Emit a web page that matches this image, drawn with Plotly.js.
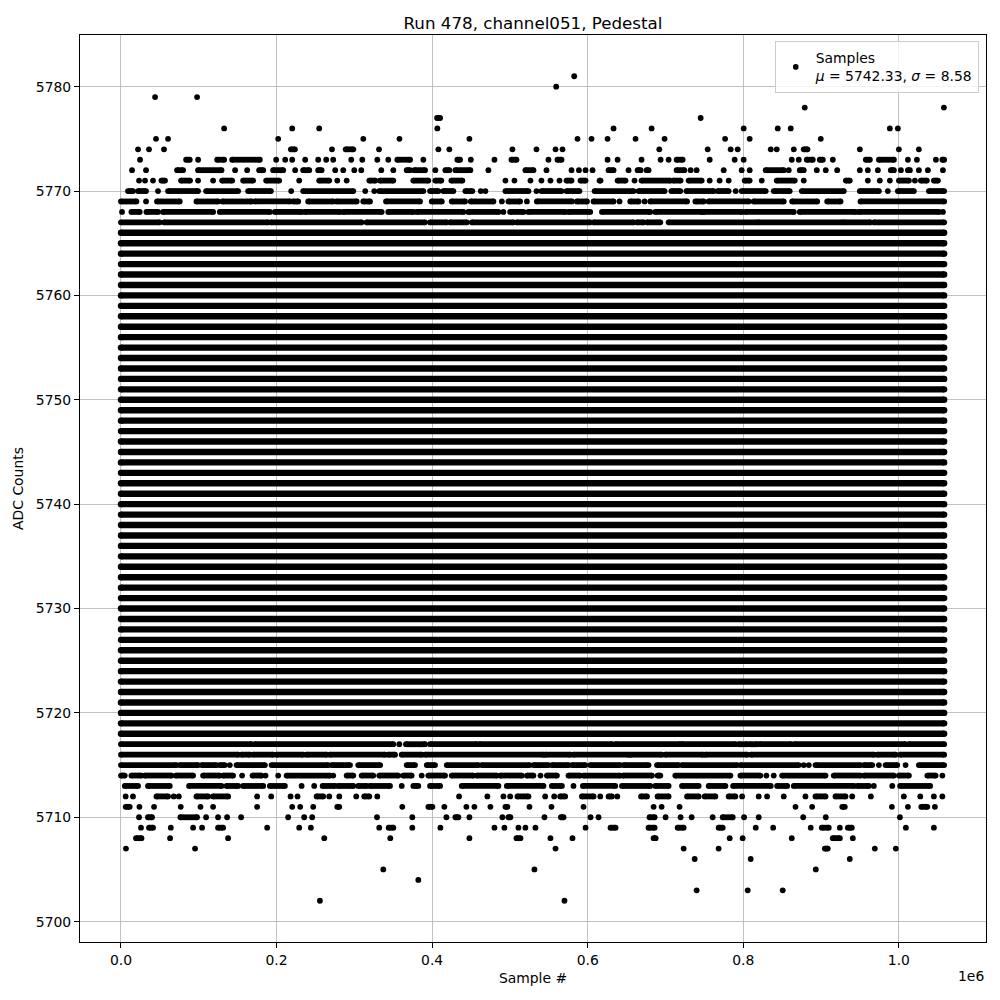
<!DOCTYPE html>
<html><head><meta charset="utf-8">
<script src="https://cdn.plot.ly/plotly-3.0.1.min.js"></script>
<style>html,body{margin:0;padding:0;background:#fff}#chart{width:1000px;height:1000px}</style>
</head><body><div id="chart"></div>
<script>
// ---------- data ----------
const firstSample = 0;
const lastSample = 1058200;

// ADC levels whose samples form an unbroken band over the whole run
const denseLevels = [5718,5719,5720,5721,5722,5723,5724,5725,5726,5727,5728,5729,5730,5731,5732,5733,5734,5735,5736,5737,5738,5739,5740,5741,5742,5743,5744,5745,5746,5747,5748,5749,5750,5751,5752,5753,5754,5755,5756,5757,5758,5759,5760,5761,5762,5763,5764,5765,5766];

// sparse ADC levels; for each, sample numbers of single samples or [first,last] of runs
const sparseLevels = [5781,5780,5779,5778,5777,5776,5775,5774,5773,5772,5771,5770,5769,5768,5767,
                      5717,5716,5715,5714,5713,5712,5711,5710,5709,5708,5707,5706,5705,5704,5703,5702];
const sparseRuns = [
  [582600],
  [559500],
  [43800, 97800],
  [879000, 1057900],
  [[406300, 410200], 745200],
  [132600, 220100, 254800, 406700, 633200, 682100, 800500, 844300, 861000, 988400, 998700],
  [45000, 60500, 202100, 311500, 358000, 447900, 586900, 604900, 625500, 661500, 698800, 776600, 808200, 899600],
  [21900, 36000, 55300, [218400, 223600], 271200, [288800, 298600], 331700, 408000, 422100, 503200, 534100, 558600, 567600, 692000, 754200, 783800, 792800, 835300, 843000, 864900, [877700, 882500], 949800, 1000000, 1025700],
  [24500, [83700, 88400], 99100, [123600, 132600], [142900, 178500], 199500, 211100, 220100, 236800, 253500, 263800, 272800, 296000, 310200, 329500, 343600, [355200, 371600], 388700, [432400, 435900], 449700, 480100, [501900, 508400], 549500, [561100, 566300], 625500, 638400, 669200, 693700, 704000, [714300, 722000], 756800, 788900, 800500, 862300, 871300, [881600, 889300], [898300, 902200], 915100, [957500, 962700], [974300, 993600], 1011600, 1023200, 1047600, [1055900, 1058200]],
  [14200, 32200, [72100, 79800], [99100, 129200], 146700, 162200, [177600, 182800], [195600, 208500], 223900, [234200, 242000], [253500, 257900], 275400, 285700, 299900, 308900, 334600, 350100, [367300, 371600], [377100, 390900], 404100, [417000, 422100], [429900, 449200], 472300, [519900, 530200], 547000, 579200, 588700, 597200, 606200, [626800, 633200], 652500, [664100, 668000], [675700, 678200], [714300, 724200], 732300, 740000, 774800, 797900, 808200, [828800, 852000], 858400, [872600, 877700], 894500, 906000, 920700, 949800, 960100, 973000, [989700, 993600], 1002600, [1011600, 1014200], 1025700, 1037300, 1056600],
  [23200, 30900, 41200, [52000, 56600], [77200, 88800], 99100, 118400, [130000, 142900], [157000, 169900], [186600, 203300], 229100, [254800, 267700], 278000, 290100, [319200, 326900], [332900, 350100], [375800, 395100], [404100, 411800], [424700, 438900], 494200, 505800, 526400, 540500, 552100, 563700, [572700, 579200], [590700, 597200], [615200, 616500], [638400, 648600], 660200, [669200, 706200], [709700, 719400], [729700, 746500], 756800, 769600, 781200, [801800, 808200], 823700, [843000, 866200], 877700, [931800, 936900], 960100, 975500, 988400, [1000000, 1012900], 1020600, [1028300, 1036000], [1045000, 1050200]],
  [[9000, 15400], [21900, 32200], 47600, [60500, 99100], [109400, 150600], [163400, 192700], 218800, [234200, 298600], 314000, 325600, [332000, 388700], [397300, 408000], [414400, 427300], [442700, 451700], 462500, 468500, [494200, 523800], 534100, [540500, 566300], [572700, 589400], [608800, 658900], [665400, 698800], [707500, 719000], [726800, 761900], [767100, 781200], 790200, [797900, 828800], [839100, 859700], [875200, 929200], [949800, 974300], 985800, [998700, 1019300], [1038600, 1058200]],
  [[0, 19800], 32200, [46300, 75500], [97000, 124800], [130500, 167800], [172100, 217100], [221400, 227800], [240700, 272800], [277200, 303000], [311500, 320100], [340700, 384400], [399500, 412400], [425200, 442300], [449700, 478800], 489600, [498100, 513100], 521800, [534600, 579700], [586100, 599000], [607500, 633200], 640900, [654700, 665400], 673100, [680400, 727700], [738400, 749000], [755500, 806900], [813400, 852000], [862800, 895000], [907900, 925000], [950700, 1058200]],
  [1300, [13400, 24100], [32700, 47600], [54100, 118400], [127000, 191400], [197800, 232200], [236400, 281500], [285700, 335100], [343600, 375800], [380200, 440200], [446600, 485200], 491600, [500300, 517400], [523800, 571000], [575300, 603200], [618300, 680400], [686900, 747000], [749000, 798500], [802700, 864900], [872600, 944300], [948500, 1051500], 1056600],
  [[0, 49800], [55300, 189200], [192700, 309400], [315800, 390900], [397300, 418800], [423000, 444500], [451000, 504500], [508900, 603200], [607500, 658900], [663300, 671800], [676200, 693300], [704000, 817800], [819800, 927200], [929200, 963600], [967800, 1058200]],
  [[0, 167800], [172100, 350100], 357800, [366400, 390900], [397300, 457400], [460700, 631100], [635400, 719000], [721200, 789800], [794100, 804900], [808200, 817800], [821100, 861500], [865800, 1008600], [1012900, 1058200]],
  [[0, 150600], [155000, 165600], [169900, 195600], [200000, 234200], [238600, 264400], [268600, 339500], [343600, 352300], [360900, 386600], [390900, 543100], [545300, 577500], [581700, 652500], [654700, 695000], [699700, 748300], [751200, 804900], [810000, 967800], [972200, 995800], [1001600, 1058200]],
  [[0, 71300], [75500, 99100], [103500, 122800], [127000, 133500], 139900, [148500, 185000], [193600, 266400], [270800, 294400], [305000, 333200], [367300, 378000], [393100, 403700], [418800, 459500], [463800, 525200], [530200, 549500], [553900, 575300], [579700, 596800], [603200, 641800], [646100, 678200], [689100, 716900], [721200, 792000], [796300, 871300], 877700, 884200, [892800, 950700], [955000, 965800], 974300, [982900, 997900], 1008600, [1025700, 1058200]],
  [[0, 4800], [13400, 26300], [30500, 64900], [70400, 92700], [105500, 127000], [131300, 144100], 155700, [169100, 180700], 185800, 202100, [212900, 268600], 272800, [290100, 298600], [309400, 324300], [332000, 356500], [362900, 373700], 386600, [395100, 416600], [425200, 453000], [457400, 483100], [487400, 515300], [521800, 530200], 539300, [547500, 560400], [575300, 590400], [594600, 641800], [645300, 682600], [689800, 693300], [712600, 783400], [796300, 822000], 829700, 839100, [849900, 905700], [916300, 950700], [955000, 993600], [1000000, 1012900], [1036600, 1047200], 1055900],
  [[4900, 21900], [34700, 62700], [87500, 129200], [135700, 150600], [157000, 182800], [191400, 210700], 232200, 248400, [259200, 275000], [279300, 298600], [305000, 315800], [320100, 345800], 360900, [375800, 382200], [397300, 410200], [438100, 485200], [496000, 543100], [553900, 566800], 581700, [593800, 635400], [644000, 680400], [686900, 704000], [721200, 742600], [755500, 777000], [786900, 835300], [843500, 856400], [864900, 942100], [946500, 961400], 967800, 991500, [1001600, 1040200]],
  [6000, 15400, [45600, 60500], 67800, 74300, [97000, 112000], [118400, 137700], 175000, 193100, 218000, 227000, [251500, 260000], 267700, 280600, 302400, [312700, 319200], 329500, 434600, 471000, 491600, 500300, [509700, 523800], 545300, 556900, [564600, 571000], [592500, 607500], 616100, [626800, 631100], 638000, [668500, 676200], [689800, 704000], [727700, 742600], [750300, 764100], [781200, 789800], 798500, 819800, 830600, 852000, 879900, [892800, 905700], [918500, 931400], 940000, 964000, 1006400, 1027500, 1045000, 1055900],
  [[6000, 11200], 23700, 42500, 76800, 102200, 118400, 175000, 220100, 230400, 247100, [278000, 280600], 361600, [395100, 400300], 415700, 444000, 454300, 474900, [494200, 496800], 525100, 553400, 594600, 684700, 695000, 718100, 867100, 888500, [927200, 930500], 991000, 1011600, [1028800, 1036600], 1046300],
  [23200, [34700, 39900], [76400, 97800], 109400, 124800, 136400, 154400, 214900, 235500, 245800, 329100, 374500, 418300, [429900, 433700], 447900, 490300, [498100, 500600], 544400, [565500, 568900], 603600, 613900, [679500, 686000], 700100, 719400, 733600, 760600, [773500, 786400], 801000, 819800, 877000, 906000, 1001300],
  [25700, [36000, 41200], 64000, 92700, 104200, [124800, 131300], 187900, 229100, 244100, 332000, [344100, 350100], 374500, 410600, 480100, 492900, 510900, 519900, 532800, 597200, [629300, 635800], [678200, 686000], [715600, 723300], [768300, 773500], 816000, 838400, 886700, [900900, 909900], 924100, [934400, 939500], 1009000, 1045000],
  [[19300, 26300], 63100, 137700, 261300, 346200, 447900, [508400, 513500], 552100, 580400, [684700, 687300], 782500, 799200, 862300, [915100, 924100], 940800],
  [6400, 95200, 558600, 723300, 768300, [904800, 908600], 969100, 996100],
  [737500, 809500, 936900],
  [337200, 531500, 893200],
  [382200],
  [740000, 805700, 850700],
  [255700, 570100]
];

const xTickValues = [0, 200000, 400000, 600000, 800000, 1000000];
const xTickLabels = ['0.0', '0.2', '0.4', '0.6', '0.8', '1.0'];
const yTickValues = [5700, 5710, 5720, 5730, 5740, 5750, 5760, 5770, 5780];
const legendLabel = 'Samples<br><i>μ</i> = 5742.33, <i>σ</i> = 8.58';
const titleText = 'Run 478, channel051, Pedestal';

// ---------- build traces ----------
const denseX = [], denseY = [];
denseLevels.forEach(v => { denseX.push(firstSample, lastSample, null); denseY.push(v, v, null); });

const sparseX = [], sparseY = [];
sparseLevels.forEach((v, i) => {
  sparseRuns[i].forEach(r => {
    if (Array.isArray(r)) { sparseX.push(r[0], r[1], null); sparseY.push(v, v, null); }
    else { sparseX.push(r, null); sparseY.push(v, null); }
  });
});

const FONT = 'DejaVu Sans, Liberation Sans, sans-serif';

const traces = [
  { x: denseX, y: denseY, mode: 'lines+markers', type: 'scatter', showlegend: false, hoverinfo: 'skip',
    line: { color: 'black', width: 6.4 }, marker: { color: 'black', size: 6.4 } },
  { x: sparseX, y: sparseY, mode: 'lines+markers', type: 'scatter', showlegend: false, hoverinfo: 'skip',
    line: { color: 'black', width: 5.8 }, marker: { color: 'black', size: 5.8 } },
  { x: [null], y: [null], mode: 'markers', type: 'scatter', name: legendLabel, showlegend: true,
    marker: { color: 'black', size: 5.6 } }
];

const axisCommon = {
  ticks: 'outside', ticklen: 5, tickwidth: 1, tickcolor: 'black',
  showline: true, linecolor: 'black', linewidth: 1, mirror: true,
  showgrid: true, gridcolor: '#b0b0b0', gridwidth: 0.8, zeroline: false,
  tickfont: { family: FONT, size: 13.9, color: 'black' }, automargin: false
};

const layout = {
  width: 1000, height: 1000,
  margin: { l: 80, r: 14, t: 35, b: 58 },
  paper_bgcolor: 'white', plot_bgcolor: 'white',
  font: { family: FONT, size: 13.9, color: 'black' },
  title: { text: titleText, font: { family: FONT, size: 16.7, color: 'black' },
           xref: 'paper', x: 0.5, xanchor: 'center', yref: 'container', y: 0.977, yanchor: 'middle' },
  xaxis: Object.assign({}, axisCommon, {
    range: [-52700, 1112000], tickmode: 'array', tickvals: xTickValues, ticktext: xTickLabels,
    title: { text: 'Sample #', font: { family: FONT, size: 13.9, color: 'black' }, standoff: 6 }
  }),
  yaxis: Object.assign({}, axisCommon, {
    range: [5698.05, 5784.95], tickmode: 'array', tickvals: yTickValues,
    title: { text: 'ADC Counts', font: { family: FONT, size: 13.9, color: 'black' }, standoff: 8 }
  }),
  legend: { x: 0.992, y: 0.993, xanchor: 'right', yanchor: 'top',
            bgcolor: 'rgba(255,255,255,0.8)', bordercolor: '#cccccc', borderwidth: 1,
            font: { family: FONT, size: 13.9, color: 'black' } },
  annotations: [{ text: '1e6', xref: 'paper', yref: 'paper', x: 1, y: -0.0375, xanchor: 'right', yanchor: 'middle',
                  showarrow: false, font: { family: FONT, size: 13.9, color: 'black' } }]
};

Plotly.newPlot('chart', traces, layout, { displayModeBar: false, staticPlot: true });
</script>
</body></html>
